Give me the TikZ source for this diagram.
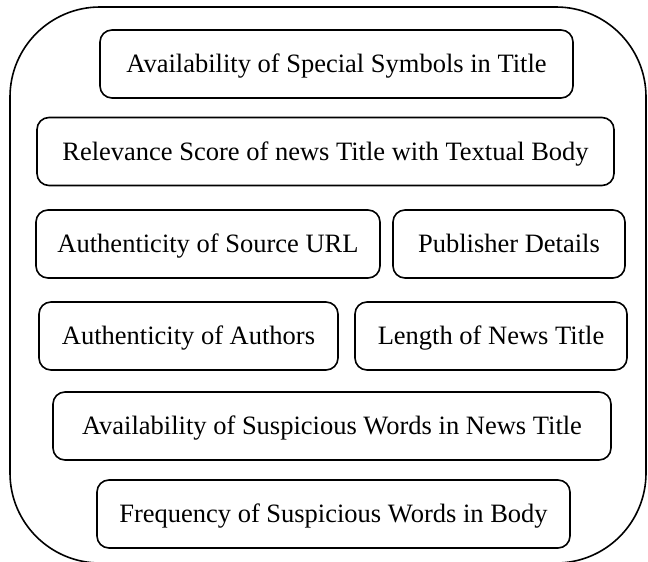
\documentclass[tikz,border=0pt]{standalone}
\usepackage{fontspec}
\setmainfont{Liberation Serif}
\usetikzlibrary{positioning}

\begin{document}
\begin{tikzpicture}[x=1pt, y=-1pt,
  feat/.style={draw, rounded corners=12pt, line width=1.6pt, inner sep=0pt,
    minimum height=68pt, text height=21pt, text depth=4pt,
    font=\fontsize{26.5}{30}\selectfont}]
  \useasboundingbox (0,0) rectangle (648,562);
  % outer frame
  \draw[line width=1.6pt, rounded corners=90pt] (10,7) rectangle (646,563);
  \node[feat, minimum width=473pt] (special) at (336.5,64) {Availability of Special Symbols in Title};
  \node[feat, minimum width=577pt] (relevance) at (325.5,151.5) {Relevance Score of news Title with Textual Body};
  \node[feat, minimum width=344pt] (url) at (208,244) {Authenticity of Source URL};
  \node[feat, minimum width=232pt] (publisher) at (509,244) {Publisher Details};
  \node[feat, minimum width=299pt] (authors) at (188.5,336) {Authenticity of Authors};
  \node[feat, minimum width=272pt] (length) at (491,336) {Length of News Title};
  \node[feat, minimum width=558pt] (suspicious) at (332,426) {Availability of Suspicious Words in News Title};
  \node[feat, minimum width=473pt] (frequency) at (333.5,514) {Frequency of Suspicious Words in Body};
\end{tikzpicture}
\end{document}
